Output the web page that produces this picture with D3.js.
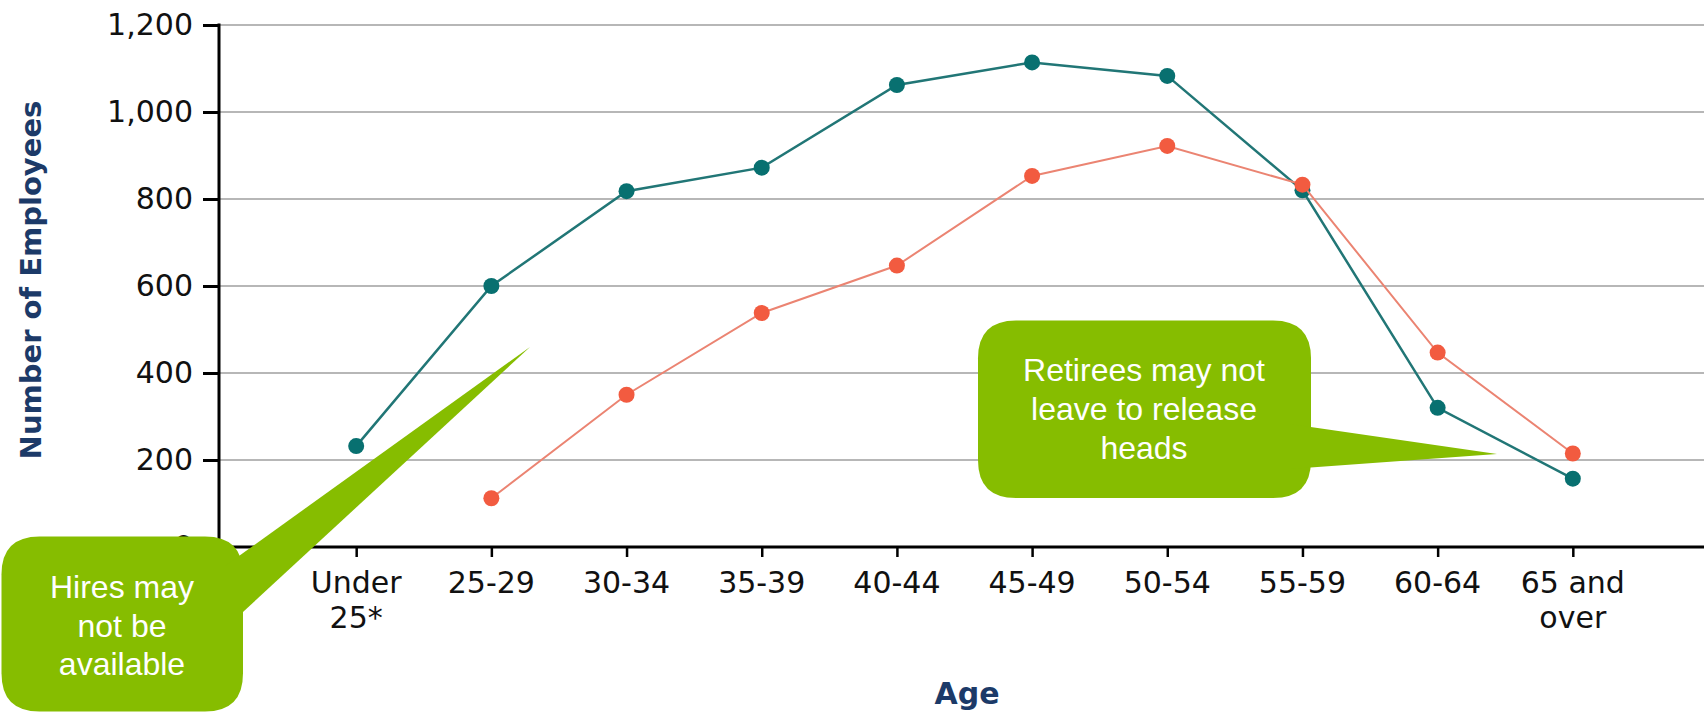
<!DOCTYPE html>
<html>
<head>
<meta charset="utf-8">
<script src="https://cdn.jsdelivr.net/npm/d3@7"></script>
<style>
  html, body { margin: 0; padding: 0; background: #ffffff; }
  svg { display: block; }
</style>
</head>
<body>
<svg id="chart" width="1704" height="712"></svg>
<script>
// Age bands on the x axis (multi-line labels split into lines)
const ageBands = ["Under 25*", "25-29", "30-34", "35-39", "40-44", "45-49", "50-54", "55-59", "60-64", "65 and over"];
const ageBandLines = [["Under", "25*"], ["25-29"], ["30-34"], ["35-39"], ["40-44"], ["45-49"], ["50-54"], ["55-59"], ["60-64"], ["65 and", "over"]];

// Number of employees per age band, two series
const tealSeries = [232, 600, 818, 872, 1062, 1114, 1083, 820, 320, 157];
const redSeries = [null, 112, 350, 538, 647, 853, 922, 833, 447, 215];

// Y axis ticks
const yTicks = [0, 200, 400, 600, 800, 1000, 1200];

const yTitle = "Number of Employees";
const xTitle = "Age";

const calloutLeftLines = ["Hires may", "not be", "available"];
const calloutRightLines = ["Retirees may not", "leave to release", "heads"];

const svg = d3.select("#chart");

const plot = { left: 219, right: 1704, top: 25, bottom: 547 };

const y = d3.scaleLinear().domain([0, 1200]).range([plot.bottom, plot.top]);
const x = d3.scalePoint().domain(ageBands).range([221, 1708]).padding(1);

// Horizontal gridlines
svg.append("g")
  .selectAll("line")
  .data(yTicks.filter(d => d > 0))
  .join("line")
  .attr("x1", plot.left).attr("x2", plot.right)
  .attr("y1", d => y(d)).attr("y2", d => y(d))
  .attr("stroke", "#b7b7b7")
  .attr("stroke-width", 2);

// Y axis
const yAxis = svg.append("g")
  .attr("transform", `translate(${plot.left},0)`)
  .call(d3.axisLeft(y).tickValues(yTicks).tickFormat(d3.format(",")).tickSize(16).tickPadding(10));
yAxis.select(".domain").remove();
yAxis.selectAll(".tick line").attr("stroke", "#000").attr("stroke-width", 3);
yAxis.selectAll(".tick text")
  .attr("font-family", "DejaVu Sans, Verdana, sans-serif")
  .attr("font-size", 30)
  .attr("fill", "#111");

svg.append("line")
  .attr("x1", plot.left).attr("x2", plot.left)
  .attr("y1", plot.top - 1.5).attr("y2", plot.bottom + 1.5)
  .attr("stroke", "#000").attr("stroke-width", 3);

// X axis
const xAxis = svg.append("g")
  .attr("transform", `translate(0,${plot.bottom})`)
  .call(d3.axisBottom(x).tickSize(10).tickFormat(""));
xAxis.select(".domain").remove();
xAxis.selectAll(".tick line").attr("stroke", "#000").attr("stroke-width", 2.5);

svg.append("line")
  .attr("x1", plot.left - 1.5).attr("x2", plot.right)
  .attr("y1", plot.bottom).attr("y2", plot.bottom)
  .attr("stroke", "#000").attr("stroke-width", 3);

const xLabels = svg.append("g")
  .attr("font-family", "DejaVu Sans, Verdana, sans-serif")
  .attr("font-size", 30)
  .attr("fill", "#111")
  .attr("text-anchor", "middle");
ageBands.forEach((band, i) => {
  const t = xLabels.append("text")
    .attr("x", x(band))
    .attr("y", plot.bottom + 46);
  ageBandLines[i].forEach((line, j) => {
    t.append("tspan")
      .attr("x", x(band))
      .attr("dy", j === 0 ? 0 : 35)
      .text(line);
  });
});

// Axis titles
svg.append("text")
  .attr("transform", "translate(41,280) rotate(-90)")
  .attr("text-anchor", "middle")
  .attr("font-family", "DejaVu Sans, Verdana, sans-serif")
  .attr("font-weight", "bold")
  .attr("font-size", 29)
  .attr("fill", "#1c3a68")
  .text(yTitle);

svg.append("text")
  .attr("x", 967)
  .attr("y", 704)
  .attr("text-anchor", "middle")
  .attr("font-family", "DejaVu Sans, Verdana, sans-serif")
  .attr("font-weight", "bold")
  .attr("font-size", 30)
  .attr("fill", "#1c3a68")
  .text(xTitle);

// Series lines and markers
function drawSeries(values, lineColor, dotColor, width) {
  const pts = ageBands.map((b, i) => ({ band: b, v: values[i] })).filter(d => d.v != null);
  const line = d3.line().x(d => x(d.band)).y(d => y(d.v));
  svg.append("path")
    .datum(pts)
    .attr("d", line)
    .attr("fill", "none")
    .attr("stroke", lineColor)
    .attr("stroke-width", width);
  svg.append("g")
    .selectAll("circle")
    .data(pts)
    .join("circle")
    .attr("cx", d => x(d.band))
    .attr("cy", d => y(d.v))
    .attr("r", 8)
    .attr("fill", dotColor);
}

drawSeries(tealSeries, "#217676", "#087070", 2.5);
drawSeries(redSeries, "#eb8472", "#f25b40", 2);

// Callouts
const green = "#86bd00";

function roundedRectPath(x0, y0, x1, y1, r) {
  return `M${x0 + r},${y0} L${x1 - r},${y0} Q${x1},${y0} ${x1},${y0 + r} ` +
    `L${x1},${y1 - r} Q${x1},${y1} ${x1 - r},${y1} L${x0 + r},${y1} ` +
    `Q${x0},${y1} ${x0},${y1 - r} L${x0},${y0 + r} Q${x0},${y0} ${x0 + r},${y0} Z`;
}

function callout(box, wedge, lines, cx, firstBaseline, lineGap) {
  const g = svg.append("g");
  g.append("path")
    .attr("d", roundedRectPath(box[0], box[1], box[2], box[3], 38))
    .attr("fill", green);
  g.append("path")
    .attr("d", "M" + wedge.map(p => p.join(",")).join(" L") + " Z")
    .attr("fill", green);
  const t = g.append("text")
    .attr("font-family", "Liberation Sans, Arial, sans-serif")
    .attr("font-size", 32)
    .attr("fill", "#ffffff")
    .attr("text-anchor", "middle")
    .attr("y", firstBaseline);
  lines.forEach((l, j) => {
    t.append("tspan").attr("x", cx).attr("dy", j === 0 ? 0 : lineGap).text(l);
  });
}

callout([1.5, 536.5, 243, 711.5],
  [[225, 566], [530, 347], [243, 612], [225, 612]],
  calloutLeftLines, 122, 598, 38.5);

callout([978, 320.5, 1311, 498],
  [[1290, 424], [1497, 454], [1290, 469]],
  calloutRightLines, 1144, 381, 39);
</script>
</body>
</html>
